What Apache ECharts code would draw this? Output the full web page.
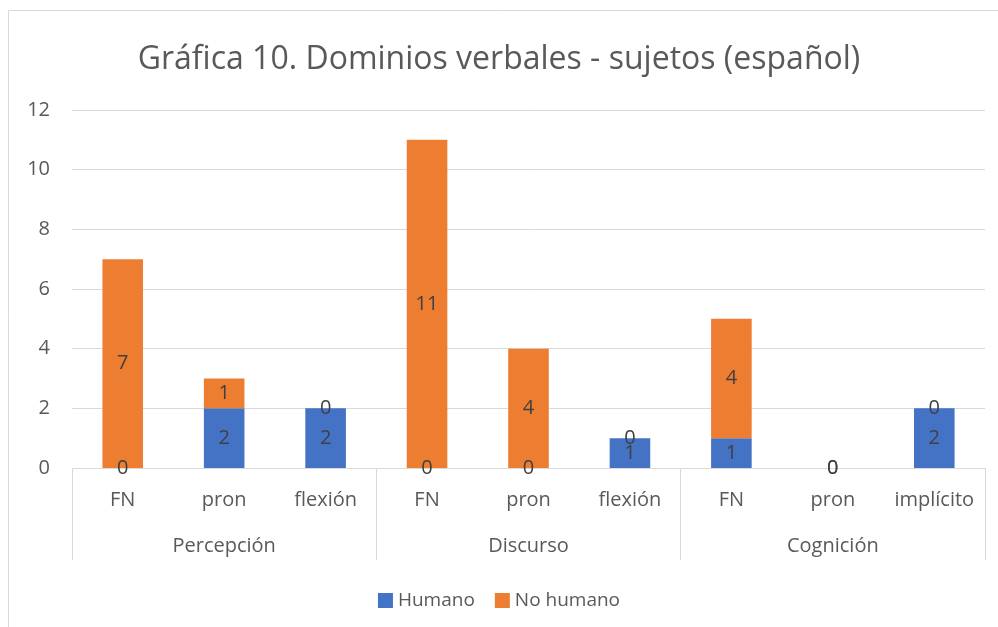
<!DOCTYPE html>
<html>
<head>
<meta charset="utf-8">
<title>Gráfica 10</title>
<script src="https://cdn.jsdelivr.net/npm/echarts@6/dist/echarts.min.js"></script>
<style>
  html, body { margin: 0; padding: 0; background: #fff; }
  #chart { width: 998px; height: 627px; }
</style>
</head>
<body>
<div id="chart"></div>
<script>
// datos de la gráfica
var subcategorias = ['FN', 'pron', 'flexión', 'FN', 'pron', 'flexión', 'FN', 'pron', 'implícito'];
var dominios = ['Percepción', 'Discurso', 'Cognición'];
var humano = [0, 2, 2, 0, 0, 1, 1, 0, 2];
var noHumano = [7, 1, 0, 11, 4, 0, 4, 0, 0];
var yTicks = [0, 12, 2]; // min, max, intervalo

var fuente = 'Open Sans';
var gris = '#595959';

var chart = echarts.init(document.getElementById('chart'));

chart.setOption({
    animation: false,
    textStyle: { fontFamily: fuente },
    title: {
        text: 'Gráfica 10. Dominios verbales - sujetos (español)',
        left: 'center',
        top: 39,
        textStyle: { fontFamily: fuente, fontSize: 32, fontWeight: 'normal', color: gris }
    },
    graphic: [{
        type: 'rect',
        shape: { x: 8.5, y: 10.5, width: 1000, height: 640 },
        style: { fill: 'none', stroke: '#d9d9d9', lineWidth: 1 },
        silent: true
    }],
    legend: {
        bottom: 12,
        left: 'center',
        itemWidth: 15,
        itemHeight: 15,
        itemGap: 20,
        icon: 'rect',
        textStyle: { fontFamily: fuente, fontSize: 19, color: gris },
        data: ['Humano', 'No humano']
    },
    grid: { left: 72, right: 13, top: 110, bottom: 159 },
    xAxis: [{
        type: 'category',
        data: subcategorias,
        axisLine: { show: true, lineStyle: { color: '#d9d9d9' } },
        axisTick: { show: false },
        axisLabel: { interval: 0, margin: 22, fontSize: 20, color: gris, fontFamily: fuente }
    }, {
        type: 'category',
        data: dominios,
        position: 'bottom',
        axisLine: { show: false },
        axisTick: { show: true, length: 92, interval: 0, lineStyle: { color: '#d9d9d9' } },
        axisLabel: { interval: 0, margin: 68, fontSize: 20, color: gris, fontFamily: fuente },
        splitLine: { show: false }
    }],
    yAxis: {
        type: 'value',
        min: yTicks[0],
        max: yTicks[1],
        interval: yTicks[2],
        axisLine: { show: false },
        axisTick: { show: false },
        axisLabel: { margin: 22, fontSize: 20, color: gris, fontFamily: fuente },
        splitLine: { lineStyle: { color: '#d9d9d9' } }
    },
    series: [{
        name: 'Humano',
        type: 'bar',
        stack: 'total',
        xAxisIndex: 0,
        barWidth: '40%',
        itemStyle: { color: '#4472C4' },
        label: { show: true, position: 'inside', fontSize: 20, color: '#404040', fontFamily: fuente },
        data: humano
    }, {
        name: 'No humano',
        type: 'bar',
        stack: 'total',
        xAxisIndex: 0,
        barWidth: '40%',
        itemStyle: { color: '#ED7D31' },
        label: { show: true, position: 'inside', fontSize: 20, color: '#404040', fontFamily: fuente },
        data: noHumano
    }]
});
</script>
</body>
</html>
